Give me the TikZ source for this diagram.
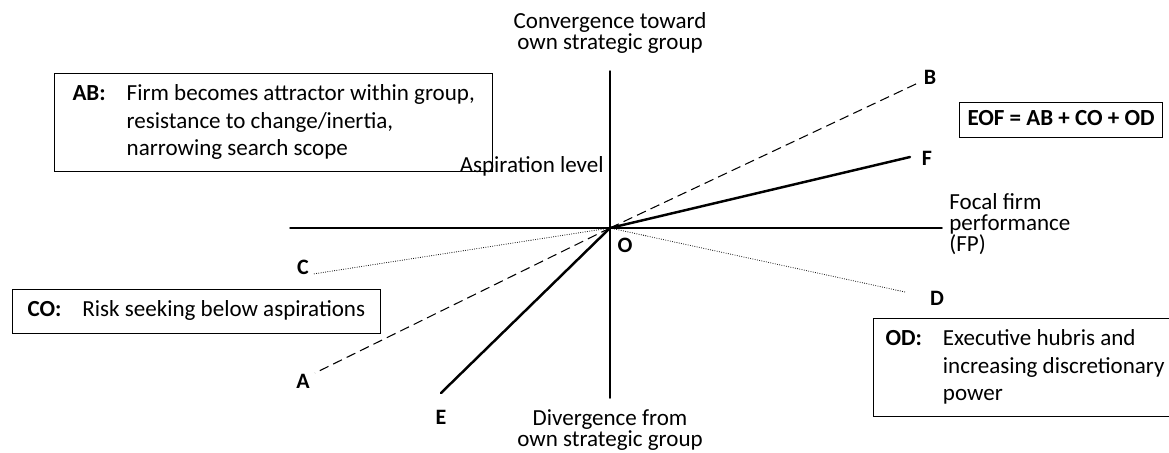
\documentclass[tikz,border=0pt]{standalone}
\usepackage{fontspec}
\setmainfont{Carlito}
\begin{document}
\begin{tikzpicture}[x=0.2mm,y=-0.2mm,cap=round,
        axis/.style={line width=0.85pt},
        thickline/.style={line width=1.4pt},
        dashline/.style={line width=0.6pt,cap=butt,dash pattern=on 5.5pt off 3pt},
        dotline/.style={line width=0.6pt,dash pattern=on 0pt off 1.3pt},
        ptlabel/.style={font=\fontsize{12.5pt}{14pt}\selectfont\bfseries,inner sep=0pt},
        axislabel/.style={font=\fontsize{13.1pt}{11.8pt}\selectfont,align=center,inner sep=0pt},
        notebox/.style={draw,line width=0.6pt,anchor=north west,inner ysep=0.17cm,
            font=\fontsize{13.1pt}{15.4pt}\selectfont}]
        \useasboundingbox (0,0) rectangle (1169,452);

        % origin, axis ends and line ends
        \coordinate (O) at (610,228);
        \coordinate (xl) at (290,228);
        \coordinate (xr) at (942,228);
        \coordinate (yt) at (610,71);
        \coordinate (yb) at (610,398);
        \coordinate (endA) at (315,373);
        \coordinate (endB) at (918,83);
        \coordinate (endC) at (313,274);
        \coordinate (endD) at (905,292);
        \coordinate (endE) at (441,393);
        \coordinate (endF) at (910,157);

        % draw the axes
        \draw[axis] (xl) -- (xr);
        \draw[axis] (yt) -- (yb);

        % draw the lines through O
        \draw[dashline] (O) -- (endA);
        \draw[dashline] (O) -- (endB);
        \draw[dotline] (O) -- (endC);
        \draw[dotline] (O) -- (endD);
        \draw[thickline] (O) -- (endE);
        \draw[thickline] (O) -- (endF);

        % letters at the line ends
        \foreach \n/\x/\y in {A/303/381, B/930/77, C/303/267,
                              D/937/298, E/441/417, F/927/158, O/625/245}
                \node[ptlabel] (lab\n) at (\x,\y) {\n};

        % axis texts
        \node[axislabel] (conv) at (610,33) {Convergence toward\\own strategic group};
        \node[axislabel] (div) at (610,430) {Divergence from\\own strategic group};
        \node[axislabel,anchor=west,align=left] (fp) at (949,224) {Focal firm\\performance\\(FP)};
        \node[axislabel,anchor=east] (asp) at (604,166) {Aspiration level};

        % boxes
        \node[notebox,inner xsep=0.36cm] (abbox) at (54,73) {%
            \begin{tabular}{@{}l@{\hspace{0.42cm}}l@{}}
                \textbf{AB:} & Firm becomes attractor within group,\\
                             & resistance to change/inertia,\\
                             & narrowing search scope
            \end{tabular}};
        \node[notebox,inner xsep=0.3cm] (cobox) at (12,289) {%
            \begin{tabular}{@{}l@{\hspace{0.42cm}}l@{}}
                \textbf{CO:} & Risk seeking below aspirations
            \end{tabular}};
        \node[notebox,inner xsep=0.16cm,inner ysep=0.08cm] (eofbox) at (959,102)
            {\strut\textbf{EOF = AB + CO + OD}};
        \node[notebox,inner xsep=0.24cm] (odbox) at (873,318) {%
            \begin{tabular}{@{}l@{\hspace{0.42cm}}l@{}}
                \textbf{OD:} & Executive hubris and\\
                             & increasing discretionary\\
                             & power
            \end{tabular}};
\end{tikzpicture}
\end{document}
